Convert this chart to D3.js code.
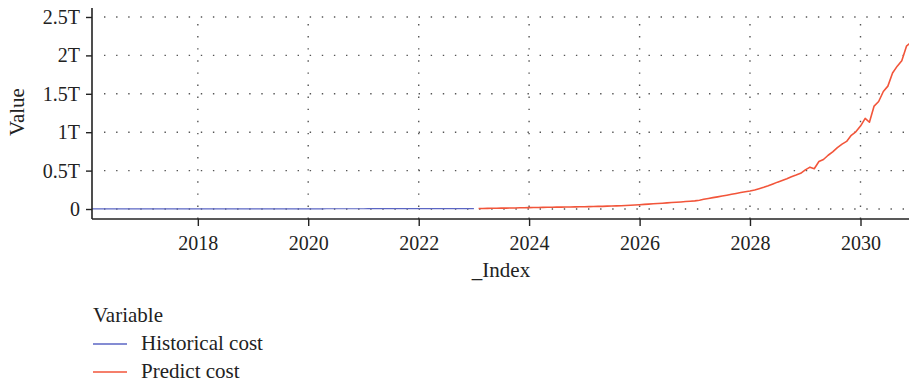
<!DOCTYPE html>
<html>
<head>
<meta charset="utf-8">
<script src="https://cdn.jsdelivr.net/npm/d3@7/dist/d3.min.js"></script>
<style>
  html, body { margin: 0; padding: 0; background: #fff; }
  svg { display: block; }
  text { font-family: "Liberation Serif", "Times New Roman", serif; fill: #222; }
</style>
</head>
<body>
<svg id="chart" width="909" height="385"></svg>
<script>
// Monthly cost, in billions. Historical: Feb 2016 – Jan 2023.
const histStart = "2016-02";
const historicalCost = [
  // 2016 (Feb–Dec)
  1.1, 1.1, 1.2, 1.2, 1.2, 1.3, 1.3, 1.3, 1.4, 1.4, 1.4,
  // 2017
  1.5, 1.5, 1.5, 1.6, 1.6, 1.6, 1.7, 1.7, 1.7, 1.8, 1.8, 1.8,
  // 2018
  1.9, 1.9, 2.0, 2.0, 2.0, 2.1, 2.1, 2.2, 2.2, 2.2, 2.3, 2.3,
  // 2019
  2.4, 2.4, 2.5, 2.5, 2.6, 2.6, 2.7, 2.7, 2.8, 2.8, 2.9, 2.9,
  // 2020
  3.0, 3.0, 3.1, 3.1, 3.2, 3.3, 3.3, 3.4, 3.4, 3.5, 3.6, 3.6,
  // 2021
  3.7, 3.8, 3.8, 3.9, 4.0, 4.0, 4.1, 4.2, 4.3, 4.3, 4.4, 4.5,
  // 2022
  4.6, 4.6, 4.7, 4.8, 4.9, 5.0, 5.1, 5.2, 5.3, 5.4, 5.5, 5.6,
  // 2023 (Jan)
  5.7
];

// Predicted cost, in billions: Feb 2023 – Dec 2030.
const predStart = "2023-02";
const predictCost = [
  // 2023 (Feb–Dec)
  6, 7, 8, 9, 10, 11, 12, 13, 14, 16, 17,
  // 2024
  18, 19, 20, 21, 22, 23, 24, 25, 26, 27, 28, 29,
  // 2025
  30, 31, 32, 34, 35, 37, 39, 41, 43, 46, 49, 52,
  // 2026
  56, 60, 64, 68, 72, 76, 80, 84, 88, 92, 97, 102,
  // 2027
  106, 115, 126, 138, 148, 158, 169, 180, 192, 203, 214, 224,
  // 2028
  234, 248, 264, 282, 302, 326, 350, 372, 395, 420, 442, 465,
  // 2029
  510, 545, 525, 618, 645, 700, 745, 800, 845, 880, 960, 1005,
  // 2030
  1080, 1180, 1130, 1340, 1400, 1530, 1600, 1770, 1860, 1930, 2120, 2170
];

const yTicks = [0, 0.5e12, 1e12, 1.5e12, 2e12, 2.5e12];
const yTickLabels = ["0", "0.5T", "1T", "1.5T", "2T", "2.5T"];
const xTickYears = [2018, 2020, 2022, 2024, 2026, 2028, 2030];

const seriesNames = ["Historical cost", "Predict cost"];
const seriesColors = ["#5b66c4", "#f2553a"];

const parseMonth = d3.timeParse("%Y-%m");
function toPoints(start, values) {
  const t0 = parseMonth(start);
  return values.map((v, i) => ({ date: d3.timeMonth.offset(t0, i), value: v * 1e9 }));
}
const series = [toPoints(histStart, historicalCost), toPoints(predStart, predictCost)];

const svg = d3.select("#chart");
const plotLeft = 92, plotRight = 911, plotTop = 8, plotBottom = 219;

const allDates = series.flat().map(d => d.date);
const x = d3.scaleTime().domain(d3.extent(allDates)).range([plotLeft, plotRight]);
const y = d3.scaleLinear().domain([-0.13e12, 2.617e12]).range([plotBottom, plotTop]);

// Dotted grid
const grid = svg.append("g").attr("stroke", "#555").attr("stroke-width", 1.4)
  .attr("stroke-dasharray", "1.4,10.7");
grid.selectAll("line.h").data(yTicks).join("line")
  .attr("x1", plotLeft + 12).attr("x2", 909)
  .attr("y1", d => y(d)).attr("y2", d => y(d));
grid.selectAll("line.v").data(xTickYears).join("line")
  .attr("x1", d => x(new Date(d, 0, 1))).attr("x2", d => x(new Date(d, 0, 1)))
  .attr("y1", plotTop + 16).attr("y2", plotBottom);

// Series lines
const line = d3.line().x(d => x(d.date)).y(d => y(d.value));
svg.append("g").selectAll("path").data(series).join("path")
  .attr("d", line)
  .attr("fill", "none")
  .attr("stroke", (d, i) => seriesColors[i])
  .attr("stroke-width", (d, i) => i === 0 ? 1.2 : 1.6)
  .attr("stroke-linejoin", "round");

// Axes
const yAxis = d3.axisLeft(y).tickValues(yTicks)
  .tickFormat((d, i) => yTickLabels[i]).tickSize(6).tickPadding(6);
const gy = svg.append("g").attr("transform", `translate(${plotLeft},0)`).call(yAxis);
gy.select(".domain").attr("d", `M0,${plotTop}V${plotBottom}`);

const xAxis = d3.axisBottom(x).tickValues(xTickYears.map(yr => new Date(yr, 0, 1)))
  .tickFormat(d3.timeFormat("%Y")).tickSize(7).tickPadding(10);
const gx = svg.append("g").attr("transform", `translate(0,${plotBottom})`).call(xAxis);
gx.select(".domain").attr("d", `M${plotLeft},0H909`);

[gx, gy].forEach(g => {
  g.select(".domain").attr("stroke", "#222").attr("stroke-width", 1.6);
  g.selectAll(".tick line").attr("stroke", "#222").attr("stroke-width", 1.4);
  g.selectAll(".tick text").attr("font-family", "Liberation Serif, serif")
    .attr("font-size", 20).attr("fill", "#222");
});

// Axis titles
svg.append("text").attr("x", 501).attr("y", 277).attr("text-anchor", "middle")
  .attr("font-size", 21).text("_Index");
svg.append("text").attr("transform", "translate(24,112) rotate(-90)")
  .attr("text-anchor", "middle").attr("font-size", 21).text("Value");

// Legend
const legend = svg.append("g");
legend.append("text").attr("x", 93).attr("y", 322).attr("font-size", 21).text("Variable");
const item = legend.selectAll("g.item").data(seriesNames).join("g")
  .attr("transform", (d, i) => `translate(0,${344 + i * 28})`);
item.append("line").attr("x1", 93).attr("x2", 127)
  .attr("stroke", (d, i) => seriesColors[i]).attr("stroke-width", 1.3);
item.append("text").attr("x", 141).attr("y", 6).attr("font-size", 21).text(d => d);
</script>
</body>
</html>
